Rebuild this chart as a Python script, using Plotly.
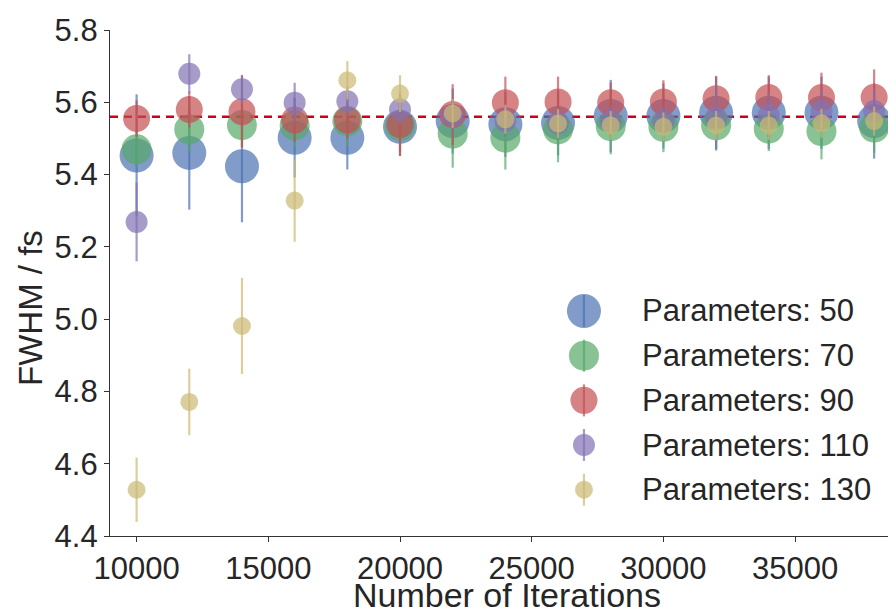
import plotly.graph_objects as go

iterations = [10000, 12000, 14000, 16000, 18000, 20000, 22000, 24000,
              26000, 28000, 30000, 32000, 34000, 36000, 38000]

fwhm_50 = [5.453, 5.460, 5.423, 5.502, 5.502, 5.532, 5.548, 5.539, 5.543, 5.562, 5.562, 5.571, 5.571, 5.571, 5.548]
err_50 = [0.169, 0.157, 0.155, 0.11, 0.088, 0.08, 0.09, 0.09, 0.09, 0.1, 0.09, 0.1, 0.1, 0.1, 0.104]

fwhm_70 = [5.470, 5.525, 5.537, 5.536, 5.548, 5.535, 5.513, 5.502, 5.525, 5.534, 5.532, 5.536, 5.527, 5.520, 5.530]
err_70 = [0.05, 0.06, 0.06, 0.06, 0.07, 0.07, 0.094, 0.088, 0.091, 0.078, 0.07, 0.07, 0.062, 0.078, 0.07]

fwhm_90 = [5.555, 5.580, 5.574, 5.551, 5.551, 5.539, 5.566, 5.599, 5.601, 5.599, 5.601, 5.610, 5.613, 5.613, 5.614]
err_90 = [0.05, 0.05, 0.1, 0.06, 0.05, 0.088, 0.084, 0.072, 0.07, 0.056, 0.06, 0.063, 0.062, 0.069, 0.077]

fwhm_110 = [5.269, 5.679, 5.636, 5.599, 5.603, 5.580, 5.562, 5.548, 5.543, 5.548, 5.548, 5.558, 5.565, 5.575, 5.576]
err_110 = [0.109, 0.054, 0.04, 0.055, 0.04, 0.04, 0.04, 0.04, 0.04, 0.04, 0.04, 0.088, 0.06, 0.06, 0.06]

fwhm_130 = [4.528, 4.771, 4.981, 5.328, 5.661, 5.624, 5.569, 5.553, 5.541, 5.536, 5.532, 5.536, 5.536, 5.542, 5.548]
err_130 = [0.089, 0.092, 0.133, 0.114, 0.053, 0.051, 0.04, 0.04, 0.04, 0.04, 0.04, 0.04, 0.04, 0.04, 0.04]

reference_fwhm = 5.56

x_ticks = [10000, 15000, 20000, 25000, 30000, 35000]
y_ticks = [4.4, 4.6, 4.8, 5.0, 5.2, 5.4, 5.6, 5.8]

series = [
    ("Parameters: 50", fwhm_50, err_50, (76, 114, 176), 34),
    ("Parameters: 70", fwhm_70, err_70, (85, 168, 104), 30),
    ("Parameters: 90", fwhm_90, err_90, (196, 78, 82), 27),
    ("Parameters: 110", fwhm_110, err_110, (129, 114, 178), 22),
    ("Parameters: 130", fwhm_130, err_130, (204, 185, 116), 18),
]

FONT = "Liberation Sans, Arial, sans-serif"
TXT = "#262626"
fig = go.Figure()

for name, ys, es, rgb, size in series:
    col = "rgba(%d,%d,%d,0.7)" % rgb
    fig.add_trace(go.Scatter(
        x=iterations, y=ys, mode="markers", name=name, showlegend=False,
        marker=dict(size=size, color=col, line=dict(width=0)),
        error_y=dict(type="data", array=es, visible=True, color=col,
                     thickness=2.2, width=0),
    ))

fig.add_hline(y=reference_fwhm, line=dict(color="#CC0018", width=2.5, dash="8px,6px"),
              layer="below")

# legend drawn as decoration (key circle + vertical error stroke + label)
leg_x = 0.603
leg_text_x = 0.674
leg_y0 = 0.4447
leg_dy = 0.0883
for i, (name, ys, es, rgb, size) in enumerate(series):
    col = "rgba(%d,%d,%d,0.7)" % rgb
    yy = leg_y0 - i * leg_dy
    r = size / 2.0
    fig.add_shape(type="circle", xref="paper", yref="paper",
                  xsizemode="pixel", ysizemode="pixel",
                  xanchor=leg_x, yanchor=yy, x0=-r, x1=r, y0=-r, y1=r,
                  fillcolor=col, line=dict(width=0))
    fig.add_shape(type="line", xref="paper", yref="paper",
                  xsizemode="pixel", ysizemode="pixel",
                  xanchor=leg_x, yanchor=yy, x0=0, x1=0, y0=-16, y1=16,
                  line=dict(color=col, width=2.2))
    fig.add_annotation(x=leg_text_x, y=yy, xref="paper", yref="paper",
                       text=name, showarrow=False, xanchor="left", yanchor="middle",
                       font=dict(family=FONT, size=31, color=TXT))

# axis titles
fig.add_annotation(x=0.505, y=-0.1166, xref="paper", yref="paper",
                   text="Number of Iterations", showarrow=False,
                   xanchor="center", yanchor="middle",
                   font=dict(family=FONT, size=34, color=TXT))
fig.add_annotation(x=-0.1005, y=0.4506, xref="paper", yref="paper",
                   text="FWHM / fs", showarrow=False, textangle=-90,
                   xanchor="center", yanchor="middle",
                   font=dict(family=FONT, size=33, color=TXT))

axis_common = dict(
    showgrid=False, zeroline=False, showline=True, linecolor="#333333",
    linewidth=1.3, ticks="outside", ticklen=5, tickwidth=1.3, tickcolor="#333333",
    tickfont=dict(family=FONT, size=31, color=TXT), automargin=False,
)

# page body has an 8px offset, so the figure is sized to the visible area
fig.update_layout(
    width=888, height=607,
    margin=dict(l=102, r=0, t=22, b=79),
    plot_bgcolor="white", paper_bgcolor="white",
    showlegend=False,
    xaxis=dict(range=[8990, 38830], tickvals=x_ticks,
               ticktext=[str(v) for v in x_ticks], **axis_common),
    yaxis=dict(range=[4.4, 5.8], tickvals=y_ticks,
               ticktext=["%.1f" % v for v in y_ticks], **axis_common),
)

fig.write_html("out.html")
